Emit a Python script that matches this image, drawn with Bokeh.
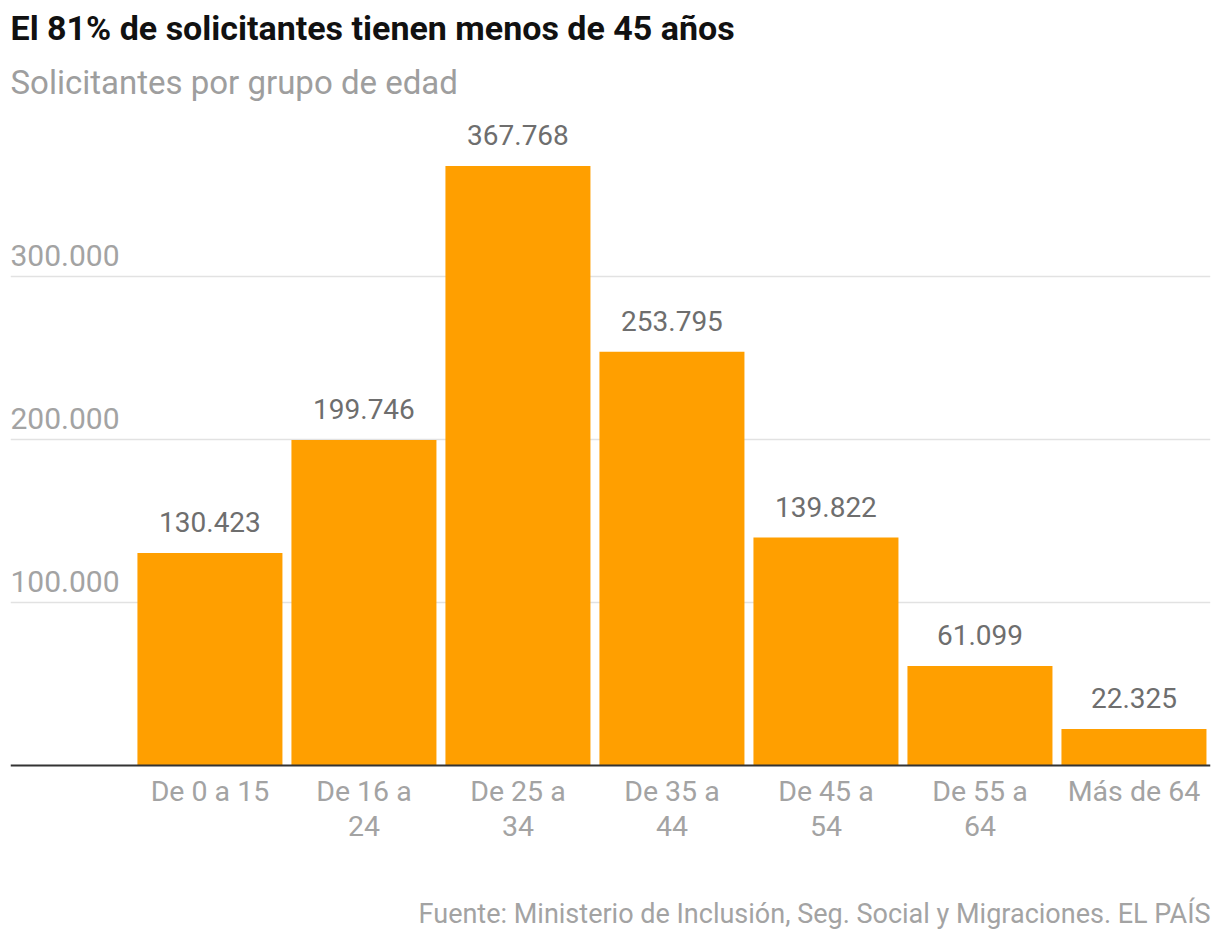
from bokeh.plotting import figure
from bokeh.models import Range1d, FixedTicker, Title, ColumnDataSource, Span
from bokeh.core.properties import value
from bokeh.embed import file_html
from bokeh.resources import INLINE

# Solicitantes por grupo de edad
groups = ["De 0 a 15", "De 16 a 24", "De 25 a 34", "De 35 a 44",
          "De 45 a 54", "De 55 a 64", "Más de 64"]
group_labels = ["De 0 a 15", "De 16 a\n24", "De 25 a\n34", "De 35 a\n44",
                "De 45 a\n54", "De 55 a\n64", "Más de 64"]
applicants = [130423, 199746, 367768, 253795, 139822, 61099, 22325]
y_ticks = [100000, 200000, 300000]
y_tick_labels = ["100.000", "200.000", "300.000"]
source_note = "Fuente: Ministerio de Inclusión, Seg. Social y Migraciones. EL PAÍS"

FONT = "Roboto"
ORANGE = "#ff9f00"
GREY = "#a3a3a3"


def es_number(v):
    return f"{v:,}".replace(",", ".")


idx = list(range(len(groups)))
src = ColumnDataSource(dict(
    x=idx,
    top=applicants,
    label=[es_number(v) for v in applicants],
    cat=group_labels,
    zero=[0] * len(idx),
))

# the plotting frame reaches the bottom of the canvas so that the
# category names and the source note can be laid out as text glyphs
p = figure(
    width=1220, height=942,
    x_range=Range1d(-1.295, 6.497),
    y_range=Range1d(-108600, 398800),
    x_axis_location=None, y_axis_location=None,
    output_backend="svg",
    toolbar_location=None,
    min_border_left=10, min_border_right=10,
    min_border_top=115, min_border_bottom=0,
    outline_line_color=None,
    background_fill_color="white",
    border_fill_color="white",
)
p.title.visible = False

# grid
p.xgrid.visible = False
p.ygrid.ticker = FixedTicker(ticks=y_ticks)
p.ygrid.grid_line_color = "#e2e2e2"
p.ygrid.grid_line_width = 1.5

# bars
p.vbar(x="x", top="top", bottom=0, width=0.9416, source=src,
       fill_color=ORANGE, line_color=None)

# baseline
p.add_layout(Span(location=0, dimension="width",
                  line_color="#333333", line_width=2))

# value labels above bars
p.text(x="x", y="top", text="label", source=src,
       text_font=value(FONT), text_font_size="28px", text_color="#6e6e6e",
       text_align="center", text_baseline="bottom", y_offset=-21)

# y tick labels sitting on the gridlines
p.text(x=[p.x_range.start] * len(y_ticks), y=y_ticks, text=y_tick_labels,
       text_font=value(FONT), text_font_size="30px", text_color=GREY,
       text_align="left", text_baseline="bottom", y_offset=-11)

# category names under the baseline
p.text(x="x", y="zero", text="cat", source=src,
       text_font=value(FONT), text_font_size="28.5px", text_color=GREY,
       text_align="center", text_baseline="top", text_line_height=1.05,
       y_offset=10)

# source note
p.text(x=[p.x_range.end], y=[p.y_range.start], text=[source_note],
       text_font=value(FONT), text_font_size="27px", text_color=GREY,
       text_align="right", text_baseline="middle", y_offset=-29)

# titles
p.add_layout(Title(text="Solicitantes por grupo de edad", text_font=FONT,
                   text_font_size="33px", text_font_style="normal",
                   text_color="#9e9e9e", align="left", offset=0,
                   standoff=27), "above")
p.add_layout(Title(text="El 81% de solicitantes tienen menos de 45 años",
                   text_font=FONT, text_font_size="34px",
                   text_font_style="bold", text_color="#111111",
                   align="left", offset=0, standoff=0), "above")

open("out.html", "w").write(file_html(p, INLINE))
